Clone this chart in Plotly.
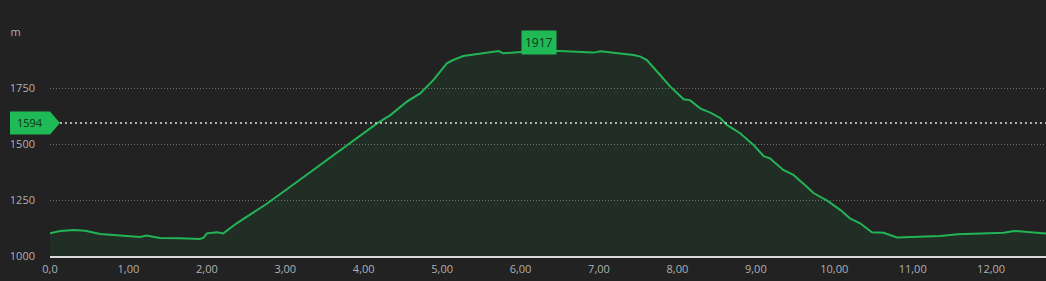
import plotly.graph_objects as go

dist_km = [0.00, 0.13, 0.30, 0.45, 0.64, 0.85, 1.06, 1.15, 1.23, 1.40, 1.66, 1.91, 1.96,
           2.00, 2.13, 2.21, 2.38, 2.55, 2.76, 3.02, 3.27, 3.38, 3.57, 3.83, 4.00, 4.17,
           4.34, 4.55, 4.72, 4.89, 5.06, 5.14, 5.27, 5.57, 5.72, 5.78, 5.99, 6.24, 6.50,
           6.93, 7.02, 7.19, 7.44, 7.53, 7.61, 7.78, 7.91, 8.08, 8.16, 8.29, 8.42, 8.55,
           8.63, 8.80, 8.97, 9.10, 9.18, 9.35, 9.48, 9.65, 9.74, 9.91, 10.08, 10.20,
           10.33, 10.48, 10.63, 10.80, 11.05, 11.35, 11.57, 11.86, 12.16, 12.29, 12.50, 12.70]
elev_m = [1101, 1112, 1116, 1113, 1098, 1094, 1089, 1085, 1091, 1080, 1079, 1076, 1082,
          1101, 1106, 1101, 1146, 1183, 1232, 1298, 1362, 1391, 1436, 1503, 1548, 1592,
          1629, 1689, 1726, 1786, 1860, 1875, 1893, 1908, 1915, 1905, 1912, 1917, 1915,
          1908, 1914, 1908, 1897, 1890, 1875, 1808, 1756, 1700, 1696, 1659, 1640, 1615,
          1585, 1548, 1496, 1446, 1436, 1384, 1362, 1309, 1280, 1247, 1205, 1168,
          1146, 1106, 1104, 1083, 1086, 1089, 1097, 1101, 1104, 1112, 1108, 1101]

x_tickvals = [0, 1, 2, 3, 4, 5, 6, 7, 8, 9, 10, 11, 12]
x_ticktext = ["0,0", "1,00", "2,00", "3,00", "4,00", "5,00", "6,00", "7,00", "8,00",
              "9,00", "10,00", "11,00", "12,00"]
y_tickvals = [1000, 1250, 1500, 1750, 2000]
y_ticktext = ["1000", "1250", "1500", "1750", "m&nbsp;&nbsp;&nbsp;&nbsp;&nbsp;"]

max_elev = 1917
max_dist = 6.24
current_elev = 1594

LINE = "#22b455"
BOX = "#1fb955"
BG = "#222222"

fig = go.Figure()
fig.add_trace(go.Scatter(
    x=dist_km, y=elev_m, mode="lines",
    line=dict(color=LINE, width=2),
    fill="tozeroy", fillcolor="rgba(30,180,85,0.09)",
    hoverinfo="skip", showlegend=False,
))

# current elevation dotted line
fig.add_shape(type="line", xref="paper", yref="y", x0=0.01, x1=1,
              y0=current_elev, y1=current_elev,
              line=dict(color="#e0e0e0", width=1.6, dash="2px,3px"), layer="above")
# current elevation tag
fig.add_shape(type="path", xref="paper", yref="y", xsizemode="pixel", ysizemode="pixel",
              xanchor=0, yanchor=current_elev,
              path="M-40,-11.5 L0,-11.5 L10,0 L0,11.5 L-40,11.5 Z",
              fillcolor=BOX, line=dict(width=0), layer="above")
fig.add_annotation(xref="paper", yref="y", x=0, y=current_elev, xshift=-20,
                   xanchor="center", yanchor="middle",
                   text=str(current_elev), showarrow=False,
                   font=dict(color="#10321c", size=11, family="Open Sans"))
# max tag
fig.add_annotation(x=max_dist, y=max_elev, yshift=8, text=str(max_elev), showarrow=False,
                   bgcolor=BOX, borderpad=3, yanchor="middle", xanchor="center",
                   font=dict(color="#10321c", size=12, family="Open Sans"))

fig.update_layout(
    width=1046, height=281,
    margin=dict(l=50, r=0, t=32, b=25),
    paper_bgcolor=BG, plot_bgcolor=BG,
    font=dict(family="Open Sans", color="#b0b0b0", size=11),
    xaxis=dict(range=[0, 12.70], tickvals=x_tickvals, ticktext=x_ticktext,
               showgrid=False, zeroline=False, showline=True, linecolor="#d8d8d8",
               linewidth=1.5, ticks="", ticklabelstandoff=2, fixedrange=True),
    yaxis=dict(range=[1000, 2000], tickvals=y_tickvals, ticktext=y_ticktext,
               showgrid=True, gridcolor="#707070", gridwidth=1, griddash="1px,2px",
               zeroline=False, showline=False, ticks="", ticklabelstandoff=14,
               fixedrange=True),
)

fig.write_html("out.html")
